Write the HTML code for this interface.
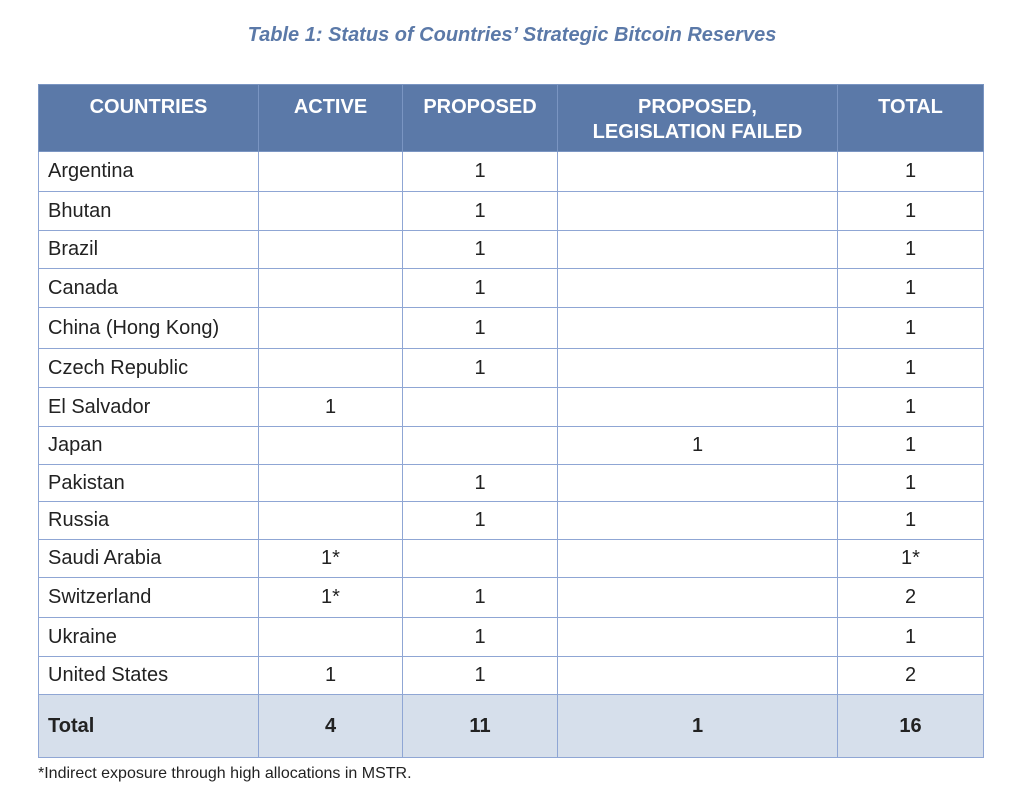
<!DOCTYPE html>
<html><head><meta charset="utf-8"><style>
body{margin:0;width:1024px;height:804px;background:#fff;font-family:"Liberation Sans",sans-serif;position:relative;overflow:hidden}
.title{position:absolute;top:24px;left:0;width:1024px;text-align:center;color:#5b79a8;font-weight:bold;font-style:italic;font-size:20px}
.c{position:absolute;box-sizing:border-box;border-right:1px solid #8fa6d4;border-bottom:1px solid #8fa6d4;display:flex;align-items:center;justify-content:center;font-size:20px;color:#222}
.h{background:#5b79a8;color:#fff;font-weight:bold;align-items:flex-start;padding-top:10px;text-align:center;line-height:25px;border-color:#7a95c2}
.l{justify-content:flex-start;padding-left:9px}
.t{background:#d6dfeb;font-weight:bold}
.foot{position:absolute;left:38px;top:765px;font-size:16px;color:#222}
</style></head><body>
<div class="title">Table 1: Status of Countries’ Strategic Bitcoin Reserves</div>
<div id="tbl"></div>
<div class="foot">*Indirect exposure through high allocations in MSTR.</div>
<script>
var cols=[38,259,403,558,838,984];
var rowsY=[84,152,192,231,269,308,349,388,427,465,502,540,578,618,657,695,758];
var headers=["COUNTRIES","ACTIVE","PROPOSED","PROPOSED,<br>LEGISLATION FAILED","TOTAL"];
var data=[
["Argentina","","1","","1"],["Bhutan","","1","","1"],["Brazil","","1","","1"],["Canada","","1","","1"],
["China (Hong Kong)","","1","","1"],["Czech Republic","","1","","1"],["El Salvador","1","","","1"],
["Japan","","","1","1"],["Pakistan","","1","","1"],["Russia","","1","","1"],["Saudi Arabia","1*","","","1*"],
["Switzerland","1*","1","","2"],["Ukraine","","1","","1"],["United States","1","1","","2"],["Total","4","11","1","16"]];
var tbl=document.getElementById('tbl');
var all=[headers].concat(data);
all.forEach(function(r,ri){
  r.forEach(function(v,ci){
    var d=document.createElement('div');
    
    
    var cls='c';
    if(ri==0)cls+=' h';else{if(ci==0)cls+=' l';if(ri==all.length-1)cls+=' t';}
    d.className=cls;
    d.style.left=cols[ci]+'px';d.style.width=(cols[ci+1]-cols[ci]+(ci==0?0:0))+'px';
    d.style.top=rowsY[ri]+'px';d.style.height=(rowsY[ri+1]-rowsY[ri])+'px';
    if(ci==0){d.style.borderLeft='1px solid '+(ri==0?'#7a95c2':'#8fa6d4');}
    if(ri==0){d.style.borderTop='1px solid #7a95c2';}
    d.innerHTML=v;
    tbl.appendChild(d);
  });
});
</script>
</body></html>
